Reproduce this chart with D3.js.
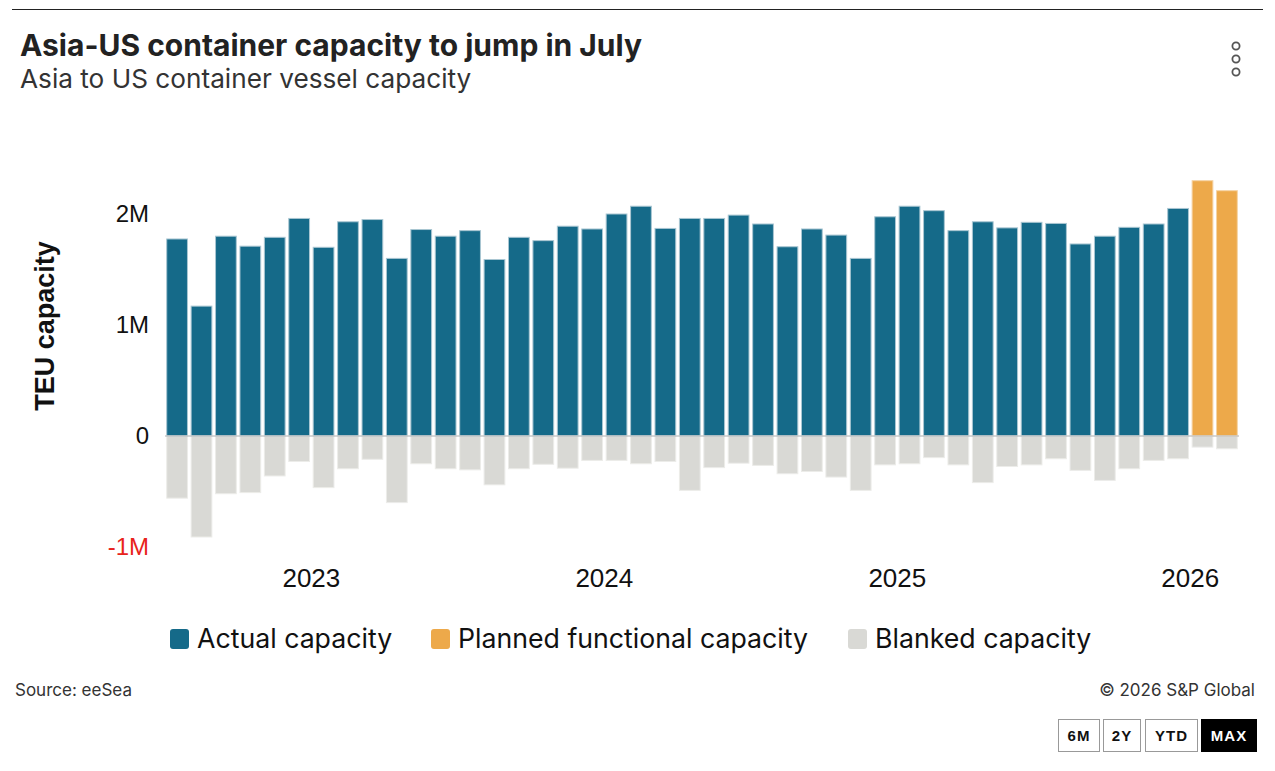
<!DOCTYPE html>
<html>
<head>
<meta charset="utf-8">
<script src="https://cdn.jsdelivr.net/npm/d3@7"></script>
<style>
  body { margin: 0; background: #fff; }
  svg { display: block; }
</style>
</head>
<body>
<script>
// Chart data
const months = [
  "2022-07","2022-08","2022-09","2022-10","2022-11","2022-12",
  "2023-01","2023-02","2023-03","2023-04","2023-05","2023-06","2023-07","2023-08","2023-09","2023-10","2023-11","2023-12",
  "2024-01","2024-02","2024-03","2024-04","2024-05","2024-06","2024-07","2024-08","2024-09","2024-10","2024-11","2024-12",
  "2025-01","2025-02","2025-03","2025-04","2025-05","2025-06","2025-07","2025-08","2025-09","2025-10","2025-11","2025-12",
  "2026-01","2026-02"
];
// Actual capacity (TEU), null where planned
const actual = [
  1775000,1170000,1800000,1710000,1790000,1960000,
  1700000,1930000,1950000,1600000,1860000,1800000,1850000,1590000,1790000,1760000,1890000,1865000,
  2000000,2070000,1870000,1960000,1960000,1990000,1910000,1705000,1865000,1810000,1600000,1975000,
  2070000,2030000,1850000,1930000,1875000,1925000,1915000,1730000,1800000,1880000,1910000,2050000,
  null,null
];
// Planned functional capacity (TEU)
const planned = [
  null,null,null,null,null,null,
  null,null,null,null,null,null,null,null,null,null,null,null,
  null,null,null,null,null,null,null,null,null,null,null,null,
  null,null,null,null,null,null,null,null,null,null,null,null,
  2300000,2210000
];
// Blanked capacity (TEU, negative)
const blanked = [
  -560000,-910000,-520000,-510000,-360000,-230000,
  -465000,-295000,-210000,-600000,-250000,-295000,-305000,-440000,-295000,-255000,-290000,-220000,
  -220000,-250000,-230000,-490000,-285000,-245000,-265000,-340000,-320000,-370000,-490000,-260000,
  -250000,-195000,-260000,-420000,-275000,-260000,-205000,-310000,-400000,-295000,-220000,-205000,
  -100000,-115000
];
const yTicks = [-1000000, 0, 1000000, 2000000];
const yTickLabels = ["-1M", "0", "1M", "2M"];
const yearTicks = ["2023-01", "2024-01", "2025-01", "2026-01"];
const yearLabels = ["2023", "2024", "2025", "2026"];
const legendItems = ["Actual capacity", "Planned functional capacity", "Blanked capacity"];

const W = 1275, H = 771;
const colActual = "#156a89", colPlanned = "#eda94a", colBlank = "#d9d9d5";
const sans = "Inter, Roboto, sans-serif";
const axisFont = "'Liberation Sans', Arial, sans-serif";

const svg = d3.select("body").append("svg")
  .attr("width", W).attr("height", H);

// top rule
svg.append("line")
  .attr("x1", 12).attr("x2", 1263).attr("y1", 9.5).attr("y2", 9.5)
  .attr("stroke", "#222").attr("stroke-width", 1);

// titles
svg.append("text").attr("x", 20).attr("y", 56)
  .attr("font-family", sans).attr("font-weight", 700).attr("font-size", 30)
  .attr("fill", "#222")
  .text("Asia-US container capacity to jump in July");
svg.append("text").attr("x", 20).attr("y", 88)
  .attr("font-family", sans).attr("font-size", 26.2)
  .attr("fill", "#333")
  .text("Asia to US container vessel capacity");

// menu icon
svg.selectAll("circle.menu").data([46, 59, 72]).join("circle")
  .attr("class", "menu")
  .attr("cx", 1236).attr("cy", d => d).attr("r", 3.6)
  .attr("fill", "none").attr("stroke", "#555").attr("stroke-width", 1.8);

// scales
const x = d3.scaleBand().domain(months).range([165, 1239]).paddingInner(0.15).paddingOuter(0.07);
const y = d3.scaleLinear().domain([-1000000, 2000000]).range([547, 214]);

// y axis labels
const yAxis = d3.axisLeft(y).tickValues(yTicks)
  .tickFormat((d, i) => yTickLabels[i]).tickSize(0).tickPadding(0);
const gy = svg.append("g").attr("transform", "translate(149,0)").call(yAxis);
gy.select(".domain").remove();
gy.selectAll("text")
  .attr("font-family", axisFont).attr("font-size", 24)
  .attr("fill", d => d < 0 ? "#e8231b" : "#111");

svg.append("text")
  .attr("transform", "translate(54,326) rotate(-90)")
  .attr("text-anchor", "middle")
  .attr("font-family", axisFont).attr("font-weight", 700).attr("font-size", 27)
  .attr("fill", "#111")
  .text("TEU capacity");

// bars
const rows = months.map((m, i) => ({ m, a: actual[i], p: planned[i], b: blanked[i] }));

svg.append("g").selectAll("rect").data(rows.filter(d => d.b != null)).join("rect")
  .attr("x", d => x(d.m)).attr("width", x.bandwidth())
  .attr("y", y(0)).attr("height", d => y(d.b) - y(0))
  .attr("fill", colBlank).attr("stroke", "#ecece9").attr("stroke-width", 1);

svg.append("g").selectAll("rect").data(rows.filter(d => d.a != null)).join("rect")
  .attr("x", d => x(d.m)).attr("width", x.bandwidth())
  .attr("y", d => y(d.a)).attr("height", d => y(0) - y(d.a))
  .attr("fill", colActual).attr("stroke", "#a9c6d2").attr("stroke-width", 1);

svg.append("g").selectAll("rect").data(rows.filter(d => d.p != null)).join("rect")
  .attr("x", d => x(d.m)).attr("width", x.bandwidth())
  .attr("y", d => y(d.p)).attr("height", d => y(0) - y(d.p))
  .attr("fill", colPlanned).attr("stroke", "#f5d3a3").attr("stroke-width", 1);

// zero line
svg.append("line")
  .attr("x1", 165).attr("x2", 1239).attr("y1", y(0)).attr("y2", y(0))
  .attr("stroke", "#c8c8c8").attr("stroke-width", 1.5);

// x axis (years)
const step = x.step();
const gx = svg.append("g").attr("transform", "translate(0,578)");
gx.selectAll("text").data(yearTicks).join("text")
  .attr("x", (d) => x(d) - step * x.paddingInner() / 2)
  .attr("y", 0).attr("dy", "0.35em")
  .attr("text-anchor", "middle")
  .attr("font-family", axisFont).attr("font-size", 26).attr("fill", "#111")
  .text((d, i) => yearLabels[i]);

// legend
const legendColors = [colActual, colPlanned, colBlank];
const legendX = [170, 431, 848];
const lg = svg.append("g");
legendItems.forEach((t, i) => {
  lg.append("rect").attr("x", legendX[i]).attr("y", 629).attr("width", 19).attr("height", 20)
    .attr("rx", 3).attr("fill", legendColors[i]);
  lg.append("text").attr("x", legendX[i] + 27).attr("y", 639).attr("dy", "0.35em")
    .attr("font-family", sans).attr("font-size", 26.7).attr("fill", "#111").text(t);
});

// footer
svg.append("text").attr("x", 15).attr("y", 696)
  .attr("font-family", sans).attr("font-size", 17).attr("fill", "#333")
  .text("Source: eeSea");
svg.append("text").attr("x", 1255).attr("y", 696).attr("text-anchor", "end")
  .attr("font-family", sans).attr("font-size", 17).attr("fill", "#333")
  .text("© 2026 S&P Global");

const buttons = [
  { t: "6M", x: 1058, w: 41 },
  { t: "2Y", x: 1103, w: 37 },
  { t: "YTD", x: 1145, w: 52 },
  { t: "MAX", x: 1201, w: 55 }
];
buttons.forEach((b, i) => {
  const active = i === buttons.length - 1;
  svg.append("rect").attr("x", b.x + 0.5).attr("y", 719.5).attr("width", b.w).attr("height", 32)
    .attr("fill", active ? "#000" : "#fff").attr("stroke", active ? "#000" : "#999");
  svg.append("text").attr("x", b.x + b.w / 2 + 0.5).attr("y", 736).attr("dy", "0.35em")
    .attr("text-anchor", "middle")
    .attr("font-family", axisFont).attr("font-weight", 700).attr("font-size", 15)
    .attr("letter-spacing", 1)
    .attr("fill", active ? "#fff" : "#111").text(b.t);
});
</script>
</body>
</html>
